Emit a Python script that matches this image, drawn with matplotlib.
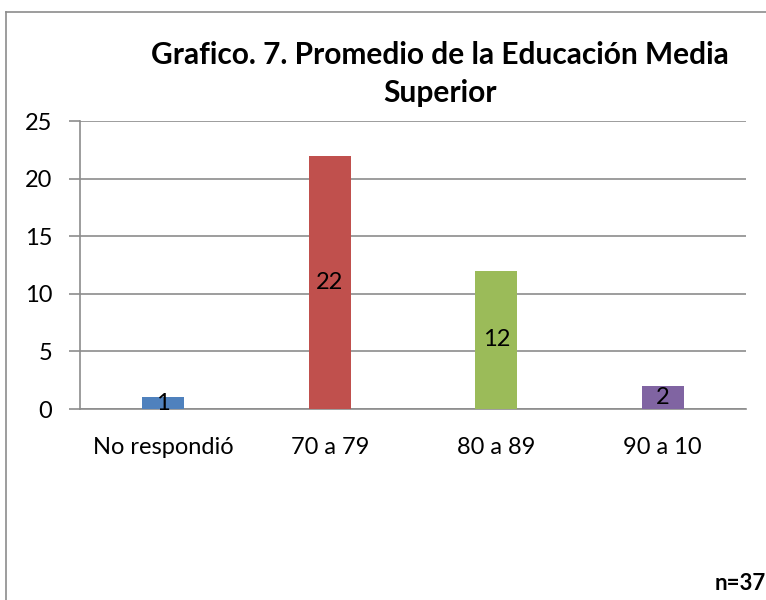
import matplotlib
matplotlib.use("Agg")
import matplotlib.pyplot as plt
from matplotlib.lines import Line2D

# datos del grafico
categorias = ["No respondió", "70 a 79", "80 a 89", "90 a 10"]
valores = [1, 22, 12, 2]
colores = ["#4F81BD", "#C0504D", "#9BBB59", "#8064A2"]
titulo = "Grafico. 7. Promedio de la Educación Media\nSuperior"
nota = "n=37"

plt.rcParams['font.family'] = ['Lato', 'DejaVu Sans']

fig = plt.figure(figsize=(7.66, 6.0), dpi=100)
ax = fig.add_axes([80/766, 1-409/600, (746-80)/766, (409-121)/600])

x = range(len(categorias))
barras = ax.bar(x, valores, width=0.25, color=colores, zorder=3)
for b, v in zip(barras, valores):
    ax.text(b.get_x()+b.get_width()/2, v/2, str(v), ha="center", va="center",
            fontsize=17, color="black", zorder=4)

ax.set_ylim(0, 25)
ax.set_xlim(-0.5, len(categorias)-0.5)
ax.set_yticks([0, 5, 10, 15, 20, 25])
ax.set_xticks(list(x))
ax.set_xticklabels(categorias)
ax.grid(axis="y", color="#8c8c8c", linewidth=1.2, zorder=0)
for s in ["top", "right"]:
    ax.spines[s].set_visible(False)
ax.spines["left"].set_color("#8c8c8c")
ax.spines["left"].set_linewidth(1.2)
ax.spines["bottom"].set_color("#8c8c8c")
ax.spines["bottom"].set_linewidth(1.2)
ax.tick_params(axis="y", length=8, width=1.2, color="#8c8c8c", labelsize=17, pad=12)
ax.tick_params(axis="x", length=0, labelsize=17, pad=20)

# titulo
fig.text(440/766, 1-74/600, titulo, ha="center", va="center", fontsize=21.5,
         fontweight="bold", linespacing=1.4)
fig.text(1.0, 1-583/600, nota, ha="right", va="center", fontsize=16, fontweight="bold")

# marco del area del grafico
fig.add_artist(Line2D([6/766, 6/766], [0, 1-12/600], color="#8c8c8c", linewidth=1.2))
fig.add_artist(Line2D([6/766, 1], [1-12/600, 1-12/600], color="#8c8c8c", linewidth=1.2))

fig.savefig("out.png", dpi=100)
